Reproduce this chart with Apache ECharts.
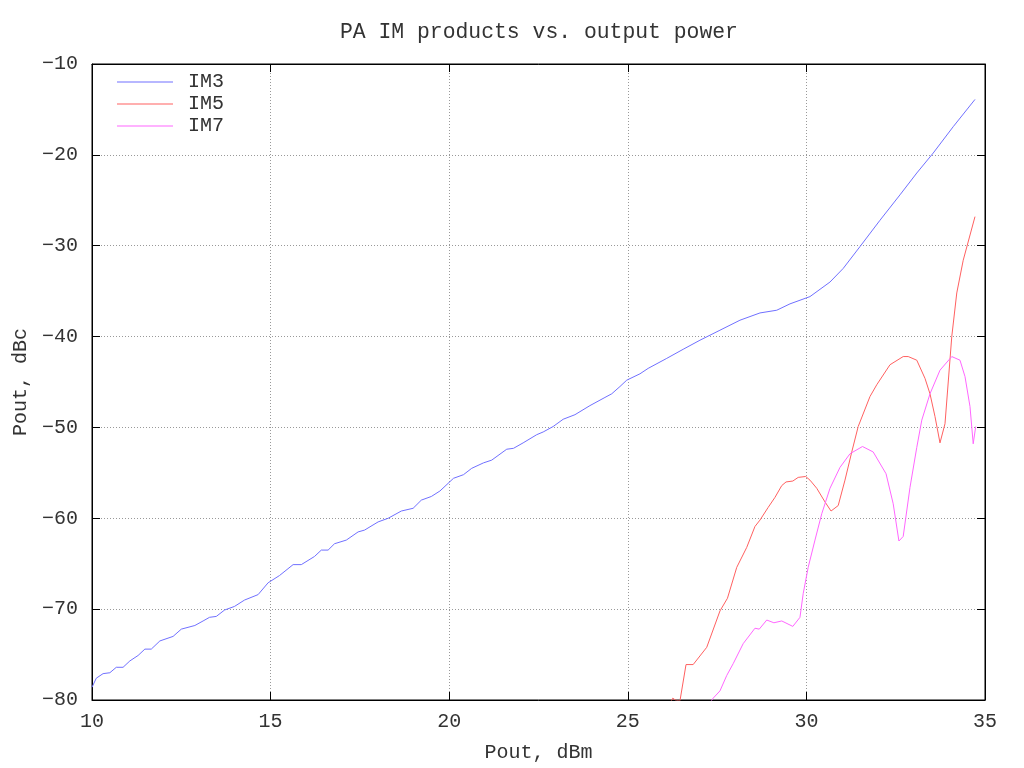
<!DOCTYPE html>
<html>
<head>
<meta charset="utf-8">
<script src="https://cdn.jsdelivr.net/npm/echarts@6/dist/echarts.min.js"></script>
<style>html,body{margin:0;padding:0;background:#fff}#c{width:1024px;height:768px}</style>
</head>
<body>
<div id="c"></div>
<script>
const titleText = 'PA IM products vs. output power';
const xName = 'Pout, dBm';
const yName = 'Pout, dBc';
const seriesNames = ['IM3', 'IM5', 'IM7'];

const im3X = [10.0,10.12,10.31,10.5,10.68,10.87,11.06,11.29,11.48,11.66,11.9,12.27,12.5,12.88,13.11,13.29,13.48,13.71,13.99,14.27,14.65,14.93,15.25,15.63,15.86,16.23,16.42,16.61,16.79,17.12,17.45,17.63,18.01,18.29,18.66,18.99,19.22,19.5,19.74,20.12,20.4,20.63,20.96,21.19,21.61,21.8,22.07,22.45,22.63,22.91,23.19,23.52,23.94,24.36,24.55,24.78,24.97,25.34,25.57,26.09,26.55,27.02,27.58,28.14,28.7,29.17,29.54,30.1,30.66,31.03,31.5,32.06,32.62,33.09,33.55,34.11,34.72];
const im3Y = [-78.6,-77.6,-77.1,-77.0,-76.4,-76.4,-75.7,-75.1,-74.4,-74.4,-73.5,-73.0,-72.2,-71.8,-71.3,-70.9,-70.8,-70.1,-69.7,-69.0,-68.4,-67.1,-66.3,-65.1,-65.1,-64.2,-63.5,-63.5,-62.8,-62.4,-61.5,-61.3,-60.4,-60.0,-59.2,-58.9,-58.0,-57.6,-57.0,-55.6,-55.2,-54.5,-53.9,-53.6,-52.4,-52.3,-51.7,-50.8,-50.5,-49.9,-49.1,-48.6,-47.6,-46.7,-46.3,-45.5,-44.8,-44.1,-43.5,-42.4,-41.4,-40.4,-39.3,-38.2,-37.4,-37.1,-36.4,-35.6,-34.0,-32.5,-30.1,-27.2,-24.4,-22.0,-19.8,-16.9,-13.9];

const im5X = [26.2,26.26,26.33,26.46,26.63,26.83,27.21,27.58,27.79,28.05,28.33,28.56,28.7,28.93,29.12,29.31,29.43,29.62,29.77,29.98,30.1,30.29,30.52,30.69,30.89,31.08,31.27,31.45,31.78,31.97,32.34,32.71,32.85,33.09,33.32,33.46,33.6,33.74,33.88,34.07,34.21,34.39,34.72];
const im5Y = [-80.2,-79.8,-80.0,-80.1,-76.1,-76.1,-74.2,-70.2,-68.8,-65.4,-63.2,-60.9,-60.2,-58.8,-57.7,-56.4,-56.0,-55.9,-55.5,-55.4,-55.8,-56.7,-58.2,-59.2,-58.6,-55.8,-52.7,-49.9,-46.6,-45.3,-43.1,-42.2,-42.2,-42.6,-44.6,-46.3,-48.8,-51.7,-49.6,-40.0,-35.2,-31.6,-26.8];

const im7X = [27.3,27.39,27.58,27.77,27.95,28.23,28.56,28.68,28.89,29.09,29.31,29.62,29.82,29.91,30.05,30.24,30.43,30.66,30.94,31.22,31.57,31.87,32.23,32.43,32.59,32.71,32.9,33.09,33.23,33.46,33.74,34.07,34.3,34.44,34.58,34.67,34.74];
const im7Y = [-80.3,-79.8,-79.0,-77.3,-76.0,-73.8,-72.1,-72.2,-71.2,-71.5,-71.3,-71.9,-70.9,-68.3,-65.4,-62.4,-59.5,-56.7,-54.4,-52.9,-52.1,-52.7,-55.1,-58.4,-62.5,-62.0,-56.6,-52.2,-49.2,-46.3,-43.7,-42.2,-42.6,-44.4,-47.7,-51.8,-49.9];

const colors = ['#7070ff', '#ff6060', '#ff66ff'];

function pairs(xs, ys) { return xs.map((x, i) => [x, ys[i]]); }

const FONT = '"Liberation Mono", "DejaVu Sans Mono", monospace';
const TXT = '#333';
const fmtNum = v => String(v).replace('-', '\u2212');

const chart = echarts.init(document.getElementById('c'), null, {renderer: 'canvas'});
const lineAxis = {lineStyle: {color: '#000', width: 1}};
chart.setOption({
  animation: false,
  backgroundColor: '#fff',
  title: {
    text: titleText, left: 340, top: 22, padding: 0,
    textStyle: {fontFamily: FONT, fontSize: 21.4, fontWeight: 'normal', color: TXT}
  },
  legend: {
    orient: 'vertical', left: 117, top: 72, padding: 0,
    itemWidth: 56, itemHeight: 1, itemGap: 2, icon: 'rect',
    data: seriesNames,
    textStyle: {fontFamily: FONT, fontSize: 20, color: TXT, padding: [0, 0, 0, 10], lineHeight: 20}
  },
  grid: {left: 92, right: 39, top: 64, bottom: 68, outerBoundsMode: 'none', containLabel: false,
         show: true, borderColor: '#000', borderWidth: 1},
  xAxis: [{
    type: 'value', min: 10, max: 35, interval: 5,
    name: xName, nameLocation: 'middle', nameGap: 43,
    nameTextStyle: {fontFamily: FONT, fontSize: 20, color: TXT},
    axisLine: lineAxis,
    axisTick: {inside: true, length: 8, lineStyle: {color: '#000'}},
    axisLabel: {fontFamily: FONT, fontSize: 20, color: TXT, margin: 12, formatter: fmtNum},
    splitLine: {show: true, lineStyle: {type: [1, 2], color: '#999', width: 1}}
  }, {
    type: 'value', position: 'top', min: 10, max: 35, interval: 5,
    axisLine: lineAxis,
    axisTick: {inside: true, length: 8, lineStyle: {color: '#000'}},
    axisLabel: {show: false}, splitLine: {show: false}
  }],
  yAxis: [{
    type: 'value', min: -80, max: -10, interval: 10,
    name: yName, nameLocation: 'middle', nameGap: 60, nameRotate: 90,
    nameTextStyle: {fontFamily: FONT, fontSize: 20, color: TXT},
    axisLine: lineAxis,
    axisTick: {inside: true, length: 8, lineStyle: {color: '#000'}},
    axisLabel: {fontFamily: FONT, fontSize: 20, color: TXT, margin: 14, formatter: fmtNum},
    splitLine: {show: true, lineStyle: {type: [1, 2], color: '#999', width: 1}}
  }, {
    type: 'value', position: 'right', min: -80, max: -10, interval: 10,
    axisLine: lineAxis,
    axisTick: {inside: true, length: 8, lineStyle: {color: '#000'}},
    axisLabel: {show: false}, splitLine: {show: false}
  }],
  series: [
    {name: seriesNames[0], type: 'line', data: pairs(im3X, im3Y)},
    {name: seriesNames[1], type: 'line', data: pairs(im5X, im5Y)},
    {name: seriesNames[2], type: 'line', data: pairs(im7X, im7Y)}
  ].map((s, i) => Object.assign(s, {
    symbol: 'none', showSymbol: false, clip: true,
    color: colors[i],
    lineStyle: {color: colors[i], width: 1},
    itemStyle: {color: colors[i]}
  }))
});
</script>
</body>
</html>
